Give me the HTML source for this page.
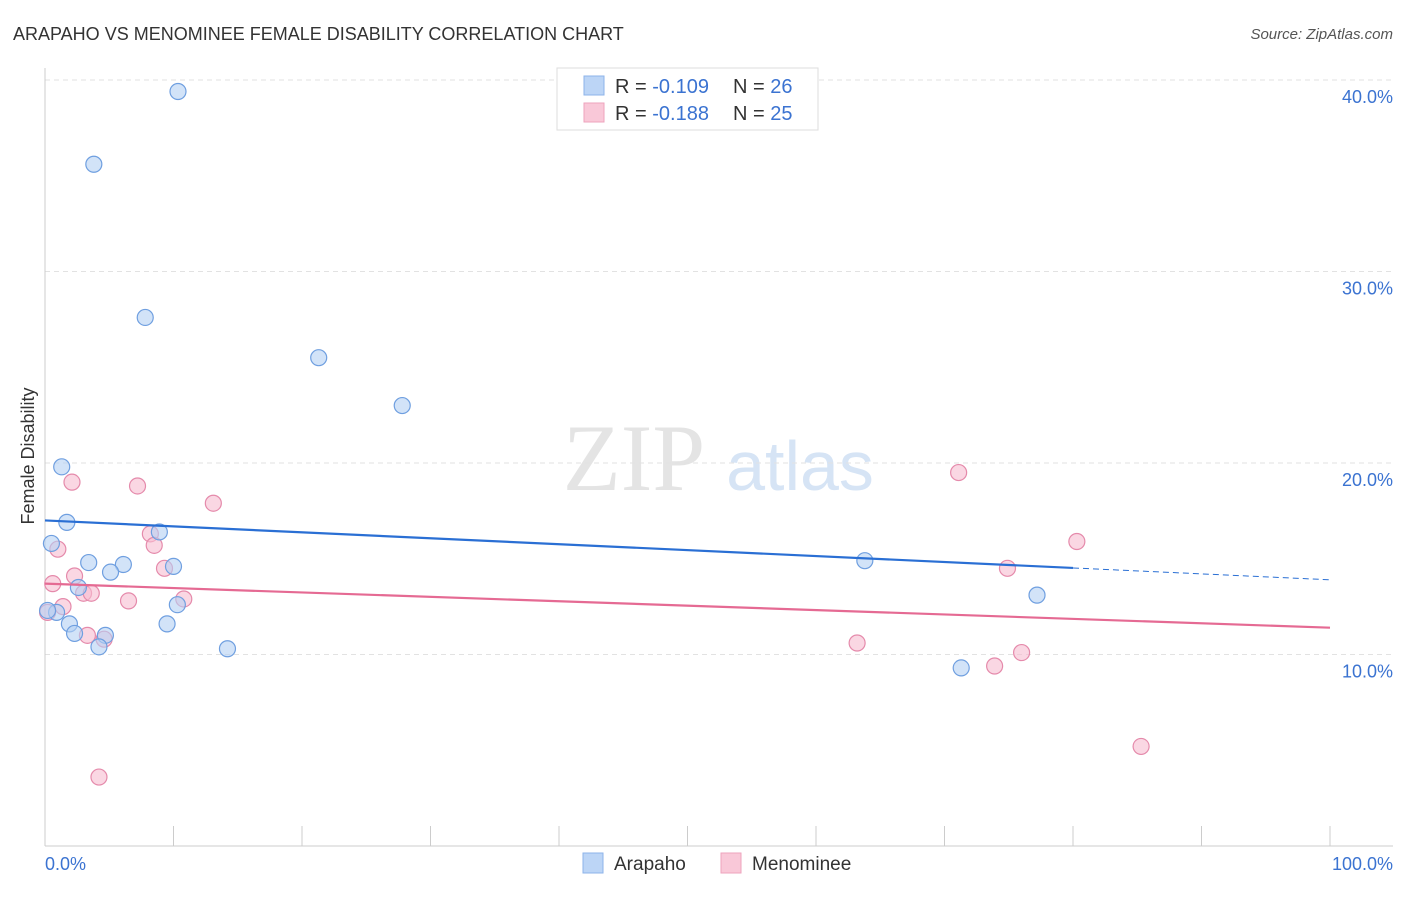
<!DOCTYPE html>
<html><head><meta charset="utf-8"><style>
body{margin:0;background:#fff;font-family:"Liberation Sans",sans-serif;}
</style></head><body>
<svg id="c" width="1406" height="892" xmlns="http://www.w3.org/2000/svg">
<text x="13" y="40" font-size="18" fill="#333">ARAPAHO VS MENOMINEE FEMALE DISABILITY CORRELATION CHART</text>
<text x="1393" y="39" font-size="15" fill="#555" font-style="italic" text-anchor="end">Source: ZipAtlas.com</text>
<text x="634" y="490" font-size="95" fill="#e4e4e4" font-family="Liberation Serif" text-anchor="middle">ZIP</text>
<text x="800" y="490" font-size="70" fill="#d6e4f5" text-anchor="middle">atlas</text>
<text x="34" y="456" font-size="18" fill="#333" text-anchor="middle" transform="rotate(-90 34 456)">Female Disability</text>
<g id="grid"></g><g id="axes"></g><g id="pts"></g><g id="trend"></g>
<g>
<rect x="557" y="68" width="261" height="62" fill="#fff" stroke="#ddd"/>
<rect x="584" y="76" width="20" height="19" fill="#bcd5f6" stroke="#8db3ea"/>
<rect x="584" y="103" width="20" height="19" fill="#f9c8d8" stroke="#eea3bd"/>
<text x="615" y="93" font-size="20" fill="#333">R = <tspan fill="#3b73d1">-0.109</tspan><tspan x="733">N = </tspan><tspan fill="#3b73d1">26</tspan></text>
<text x="615" y="120" font-size="20" fill="#333">R = <tspan fill="#3b73d1"> -0.188</tspan><tspan x="733">N = </tspan><tspan fill="#3b73d1">25</tspan></text>
</g>
<g>
<rect x="583" y="853" width="20" height="20" fill="#bcd5f6" stroke="#8db3ea"/>
<text x="614" y="870" font-size="19" fill="#333">Arapaho</text>
<rect x="721" y="853" width="20" height="20" fill="#f9c8d8" stroke="#eea3bd"/>
<text x="752" y="870" font-size="19" fill="#333">Menominee</text>
</g>
</svg>
<script>
const yTicks=[10,20,30,40];
const yTickLabels=["10.0%","20.0%","30.0%","40.0%"];
const xTickLabels=["0.0%","100.0%"];
const arapahoX=[10.35,3.8,7.8,21.3,27.8,1.3,1.7,0.5,8.9,3.4,6.1,10.0,5.1,2.6,10.3,0.9,0.2,1.9,9.5,2.3,4.7,4.2,14.2,63.8,77.2,71.3];
const arapahoY=[39.4,35.6,27.6,25.5,23.0,19.8,16.9,15.8,16.4,14.8,14.7,14.6,14.3,13.5,12.6,12.2,12.3,11.6,11.6,11.1,11.0,10.4,10.3,14.9,13.1,9.3];
const menomX=[2.1,7.2,13.1,1.0,8.2,8.5,9.3,2.3,0.6,3.0,3.6,6.5,10.8,1.4,0.2,3.3,4.6,63.2,71.1,80.3,74.9,76.0,73.9,85.3,4.2];
const menomY=[19.0,18.8,17.9,15.5,16.3,15.7,14.5,14.1,13.7,13.2,13.2,12.8,12.9,12.5,12.2,11.0,10.8,10.6,19.5,15.9,14.5,10.1,9.4,5.2,3.6];
const arapahoTrend=[17.0,13.9];
const menomTrend=[13.7,11.4];
const X=v=>45+v*12.85, Y=v=>846-v*19.15;
const NS="http://www.w3.org/2000/svg";
function mk(p,t,a){const e=document.createElementNS(NS,t);for(const k in a)e.setAttribute(k,a[k]);document.getElementById(p).appendChild(e);return e;}
yTicks.forEach((t,i)=>{
 const g=mk('grid','line',{x1:45,x2:1393,y1:Y(t),y2:Y(t),stroke:'#e2e2e2','stroke-dasharray':'5,4'});
 
 
 const l=mk('grid','text',{x:1393,y:Y(t)+23,'font-size':18,fill:'#3b73d1','text-anchor':'end'});
 l.textContent=yTickLabels[i];
 
 
});
let a=mk('axes','line',{x1:45,x2:45,y1:68,y2:846,stroke:'#ccc'});


a=mk('axes','line',{x1:45,x2:1393,y1:846,y2:846,stroke:'#ccc'});


for(let i=0;i<=10;i++){const t=mk('axes','line',{x1:X(i*10),x2:X(i*10),y1:826,y2:846,stroke:'#ccc'});
 
 }
[[0,'start',45],[100,'end',1393]].forEach((d,i)=>{const t=mk('axes','text',{x:d[2],y:870,'font-size':18,fill:'#3b73d1','text-anchor':d[1]});t.textContent=xTickLabels[i];
 
 });
function dots(xs,ys,f,s,n){xs.forEach((x,i)=>{const c=mk('pts','circle',{cx:X(x),cy:Y(ys[i]),r:8,fill:f,'fill-opacity':0.6,stroke:s,'stroke-width':1.2});
 
 });}
dots(menomX,menomY,'#f7bcd0','#e58aab','menominee-point');
dots(arapahoX,arapahoY,'#b4d0f4','#6f9fe0','arapaho-point');
let tl=mk('trend','line',{x1:X(0),y1:Y(arapahoTrend[0]),x2:X(80),y2:Y(arapahoTrend[0]+(arapahoTrend[1]-arapahoTrend[0])*0.8),stroke:'#2a6fd4','stroke-width':2.2});


tl=mk('trend','line',{x1:X(80),y1:Y(arapahoTrend[0]+(arapahoTrend[1]-arapahoTrend[0])*0.8),x2:X(100),y2:Y(arapahoTrend[1]),stroke:'#2a6fd4','stroke-width':1,'stroke-dasharray':'6,4'});


tl=mk('trend','line',{x1:X(0),y1:Y(menomTrend[0]),x2:X(100),y2:Y(menomTrend[1]),stroke:'#e56a93','stroke-width':2.2});


</script>
</body></html>
